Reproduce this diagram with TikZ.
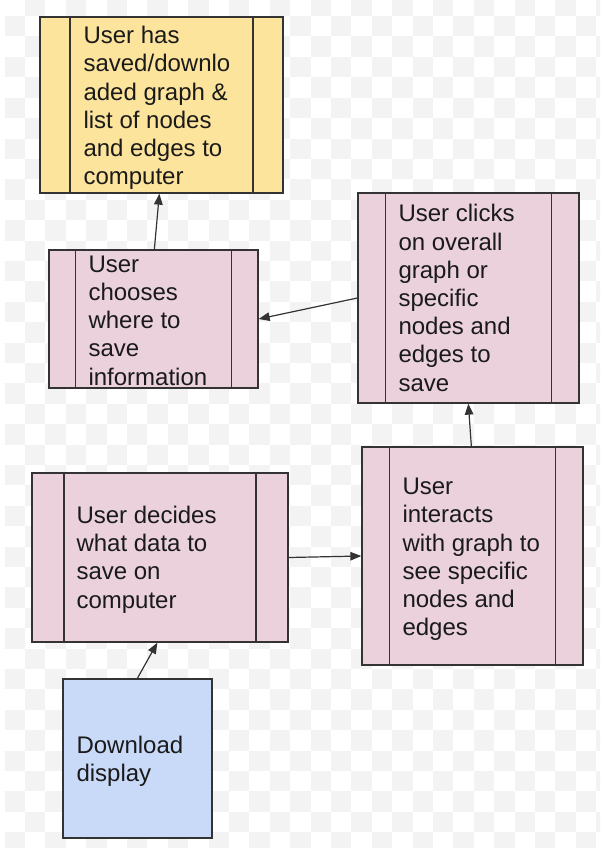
\documentclass[tikz,border=0pt]{standalone}
\usepackage{fontspec}
\setmainfont{Liberation Sans}
\usetikzlibrary{arrows.meta,calc}

\definecolor{edgegray}{HTML}{333333}
\definecolor{inkc}{HTML}{1A1A1A}
\definecolor{checkc}{HTML}{F3F3F3}
\definecolor{yellowfill}{HTML}{FDE49C}
\definecolor{pinkfill}{HTML}{EAD1DC}
\definecolor{bluefill}{HTML}{C9DAF8}

\tikzset{
  box/.style={draw=edgegray, line width=1.3pt, inner sep=0pt},
  % process box with two inner vertical rules, #1 = inset of the rules
  subproc/.style={box, path picture={
      \draw[edgegray, line width=1.2pt]
        ([xshift=#1]path picture bounding box.north west) --
        ([xshift=#1]path picture bounding box.south west);
      \draw[edgegray, line width=1.2pt]
        ([xshift=-#1]path picture bounding box.north east) --
        ([xshift=-#1]path picture bounding box.south east);}},
  txt/.style={anchor=west, align=left, inner sep=0pt, text=inkc,
    font=\fontsize{24}{28.2}\selectfont},
  flow/.style={draw=edgegray, line width=1.2pt,
    -{Triangle[length=11pt,width=8.5pt]}}
}

\begin{document}
\begin{tikzpicture}[x=1pt,y=-1pt]
  \useasboundingbox (0,0) rectangle (600,848);
  \fill[white] (0,0) rectangle (600,848);

  % light checkerboard backdrop
  \begin{scope}
    \clip (0,0) rectangle (600,848);
    \foreach \i in {0,...,29} {
      \foreach \j in {-1,...,41} {
        \pgfmathparse{int(mod(\i+\j+100,2))}
        \ifnum\pgfmathresult=0
          \fill[checkc] ({4.5+\i*20.4},{16.1+\j*20.4}) rectangle ++(20.4,20.4);
        \fi
      }
    }
  \end{scope}

  % boxes
  \node[subproc=30pt, fill=yellowfill, minimum width=243pt, minimum height=176pt]
    (saved) at (161.5,105) {};
  \node[txt] at ([xshift=44pt,yshift=-3pt]saved.west)
    {User has\\saved/downlo\\aded graph \&\\list of nodes\\and edges to\\computer};

  \node[subproc=26.5pt, fill=pinkfill, minimum width=209pt, minimum height=138pt]
    (choose) at (153.5,319) {};
  \node[txt] at ([xshift=40pt,yshift=-1.5pt]choose.west)
    {User\\chooses\\where to\\save\\information};

  \node[subproc=27.5pt, fill=pinkfill, minimum width=221pt, minimum height=210pt]
    (clicks) at (468.5,298) {};
  \node[txt] at ([xshift=41pt]clicks.west)
    {User clicks\\on overall\\graph or\\specific\\nodes and\\edges to\\save};

  \node[subproc=32pt, fill=pinkfill, minimum width=256pt, minimum height=169pt]
    (decide) at (160,557.5) {};
  \node[txt] at ([xshift=45pt,yshift=-2pt]decide.west)
    {User decides\\what data to\\save on\\computer};

  \node[subproc=27.5pt, fill=pinkfill, minimum width=221pt, minimum height=218pt]
    (interact) at (472.5,556) {};
  \node[txt] at ([xshift=41pt,yshift=-3.5pt]interact.west)
    {User\\interacts\\with graph to\\see specific\\nodes and\\edges};

  \node[box, fill=bluefill, minimum width=149pt, minimum height=159pt]
    (download) at (137.5,758.5) {};
  \node[txt] at ([xshift=14pt,yshift=-3pt]download.west)
    {Download\\display};

  % connectors
  \draw[flow] ([xshift=75pt]download.north west) -- ([xshift=126pt]decide.south west);
  \draw[flow] (decide.east) -- (interact.west);
  \draw[flow] ([xshift=110pt]interact.north west) -- ([xshift=111pt]clicks.south west);
  \draw[flow] (clicks.west) -- (choose.east);
  \draw[flow] ([xshift=106pt]choose.north west) -- ([xshift=120pt]saved.south west);
\end{tikzpicture}
\end{document}
